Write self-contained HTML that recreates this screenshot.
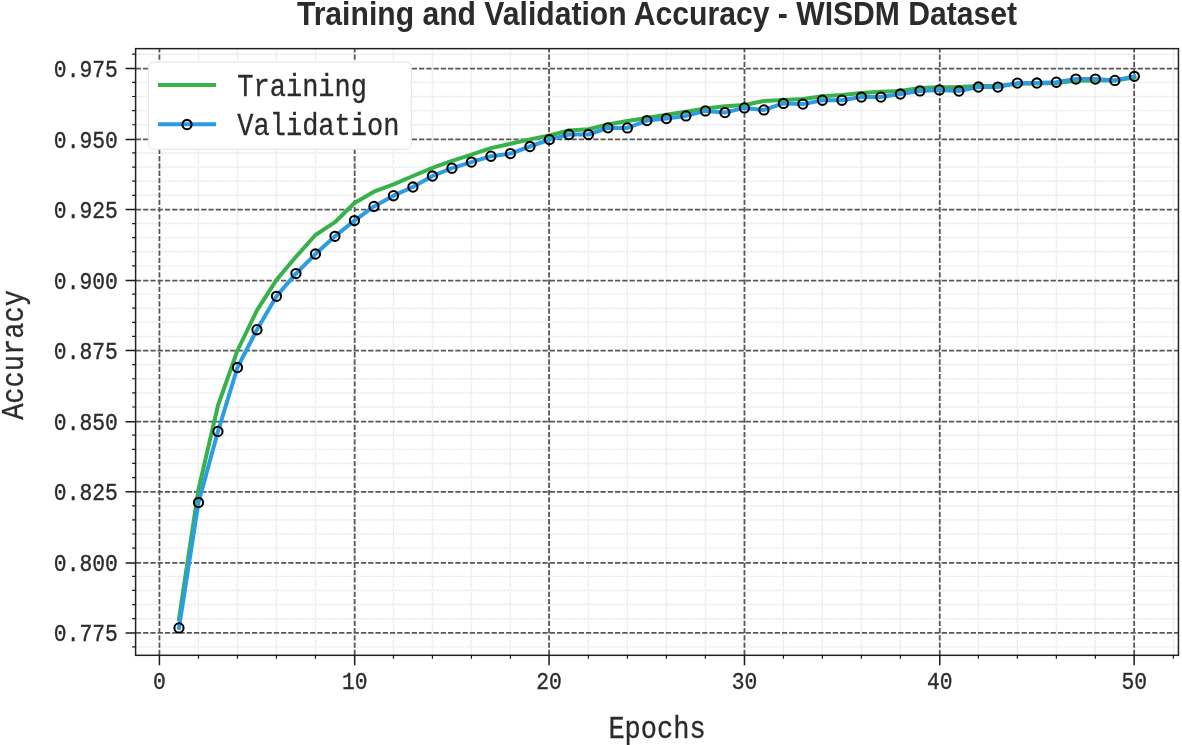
<!DOCTYPE html>
<html><head><meta charset="utf-8"><style>html,body{margin:0;padding:0;background:#fff;width:1182px;height:745px;overflow:hidden}svg{display:block}svg{will-change:transform}</style></head>
<body>
<svg width="1182" height="745" viewBox="0 0 1182 745">
<rect width="1182" height="745" fill="#fff"/>
<defs><clipPath id="ax"><rect x="135.6" y="48.65" width="1042.8500000000001" height="606.65"/></clipPath></defs>
<path d="M198.47 655.3V48.65M237.46 655.3V48.65M276.46 655.3V48.65M315.45 655.3V48.65M393.45 655.3V48.65M432.44 655.3V48.65M471.44 655.3V48.65M510.43 655.3V48.65M588.43 655.3V48.65M627.42 655.3V48.65M666.42 655.3V48.65M705.41 655.3V48.65M783.41 655.3V48.65M822.40 655.3V48.65M861.40 655.3V48.65M900.39 655.3V48.65M978.39 655.3V48.65M1017.38 655.3V48.65M1056.38 655.3V48.65M1095.37 655.3V48.65M1173.37 655.3V48.65M135.6 646.90H1178.45M135.6 618.68H1178.45M135.6 604.57H1178.45M135.6 590.45H1178.45M135.6 576.34H1178.45M135.6 548.12H1178.45M135.6 534.00H1178.45M135.6 519.89H1178.45M135.6 505.78H1178.45M135.6 477.56H1178.45M135.6 463.44H1178.45M135.6 449.33H1178.45M135.6 435.22H1178.45M135.6 406.99H1178.45M135.6 392.88H1178.45M135.6 378.77H1178.45M135.6 364.66H1178.45M135.6 336.43H1178.45M135.6 322.32H1178.45M135.6 308.21H1178.45M135.6 294.10H1178.45M135.6 265.87H1178.45M135.6 251.76H1178.45M135.6 237.65H1178.45M135.6 223.53H1178.45M135.6 195.31H1178.45M135.6 181.20H1178.45M135.6 167.09H1178.45M135.6 152.97H1178.45M135.6 124.75H1178.45M135.6 110.64H1178.45M135.6 96.52H1178.45M135.6 82.41H1178.45M135.6 54.19H1178.45" stroke="#ebebeb" stroke-width="1.4" stroke-dasharray="2.5 0.7" fill="none"/>
<path d="M159.43 655.3V48.65M354.67 655.3V48.65M549.06 655.3V48.65M744.47 655.3V48.65M939.77 655.3V48.65M1134.16 655.3V48.65M135.6 632.97H1178.45M135.6 562.90H1178.45M135.6 491.80H1178.45M135.6 421.72H1178.45M135.6 350.60H1178.45M135.6 280.60H1178.45M135.6 209.53H1178.45M135.6 139.47H1178.45M135.6 68.53H1178.45" stroke="#4a4a4a" stroke-opacity="0.92" stroke-width="1.8" stroke-dasharray="5.3 1.96" stroke-dashoffset="-0.24" fill="none"/>
<g clip-path="url(#ax)">
<polyline points="178.97,619.00 198.47,489.50 217.96,405.50 237.46,350.50 256.96,310.30 276.46,279.90 295.96,256.80 315.45,235.00 334.95,222.20 354.45,203.00 373.95,191.70 393.45,184.30 412.94,176.00 432.44,167.90 451.94,160.80 471.44,154.60 490.94,148.10 510.43,143.80 529.93,139.40 549.43,135.50 568.93,130.40 588.43,129.20 607.92,124.50 627.42,121.00 646.92,117.90 666.42,114.80 685.92,111.80 705.41,108.50 724.91,106.20 744.41,105.00 763.91,100.90 783.41,99.90 802.90,98.90 822.40,96.20 841.90,95.00 861.40,93.10 880.90,91.70 900.39,91.10 919.89,88.10 939.39,87.20 958.89,86.90 978.39,86.00 997.88,85.80 1017.38,83.80 1036.88,83.40 1056.38,83.00 1075.88,80.80 1095.37,80.50 1114.87,80.60 1134.37,77.30" fill="none" stroke="#37b24b" stroke-width="4" stroke-linejoin="round" stroke-linecap="square"/>
<polyline points="178.97,627.90 198.47,502.50 217.96,431.40 237.46,367.50 256.96,329.70 276.46,296.30 295.96,273.60 315.45,254.00 334.95,236.30 354.45,220.60 373.95,206.40 393.45,195.70 412.94,187.00 432.44,176.00 451.94,168.20 471.44,162.10 490.94,156.20 510.43,153.60 529.93,146.50 549.43,139.60 568.93,134.50 588.43,134.50 607.92,127.80 627.42,127.90 646.92,120.60 666.42,118.60 685.92,115.90 705.41,110.90 724.91,112.60 744.41,107.90 763.91,109.90 783.41,103.40 802.90,104.10 822.40,100.20 841.90,100.20 861.40,97.10 880.90,97.10 900.39,94.00 919.89,90.90 939.39,89.90 958.89,91.00 978.39,87.00 997.88,87.10 1017.38,83.10 1036.88,83.00 1056.38,82.20 1075.88,79.10 1095.37,79.10 1114.87,80.40 1134.37,76.30" fill="none" stroke="#2b9de5" stroke-width="4" stroke-linejoin="round" stroke-linecap="square"/>
<ellipse cx="178.97" cy="627.90" rx="4.6" ry="4.65" fill="none" stroke="#000" stroke-width="2.05"/>
<ellipse cx="198.47" cy="502.50" rx="4.6" ry="4.65" fill="none" stroke="#000" stroke-width="2.05"/>
<ellipse cx="217.96" cy="431.40" rx="4.6" ry="4.65" fill="none" stroke="#000" stroke-width="2.05"/>
<ellipse cx="237.46" cy="367.50" rx="4.6" ry="4.65" fill="none" stroke="#000" stroke-width="2.05"/>
<ellipse cx="256.96" cy="329.70" rx="4.6" ry="4.65" fill="none" stroke="#000" stroke-width="2.05"/>
<ellipse cx="276.46" cy="296.30" rx="4.6" ry="4.65" fill="none" stroke="#000" stroke-width="2.05"/>
<ellipse cx="295.96" cy="273.60" rx="4.6" ry="4.65" fill="none" stroke="#000" stroke-width="2.05"/>
<ellipse cx="315.45" cy="254.00" rx="4.6" ry="4.65" fill="none" stroke="#000" stroke-width="2.05"/>
<ellipse cx="334.95" cy="236.30" rx="4.6" ry="4.65" fill="none" stroke="#000" stroke-width="2.05"/>
<ellipse cx="354.45" cy="220.60" rx="4.6" ry="4.65" fill="none" stroke="#000" stroke-width="2.05"/>
<ellipse cx="373.95" cy="206.40" rx="4.6" ry="4.65" fill="none" stroke="#000" stroke-width="2.05"/>
<ellipse cx="393.45" cy="195.70" rx="4.6" ry="4.65" fill="none" stroke="#000" stroke-width="2.05"/>
<ellipse cx="412.94" cy="187.00" rx="4.6" ry="4.65" fill="none" stroke="#000" stroke-width="2.05"/>
<ellipse cx="432.44" cy="176.00" rx="4.6" ry="4.65" fill="none" stroke="#000" stroke-width="2.05"/>
<ellipse cx="451.94" cy="168.20" rx="4.6" ry="4.65" fill="none" stroke="#000" stroke-width="2.05"/>
<ellipse cx="471.44" cy="162.10" rx="4.6" ry="4.65" fill="none" stroke="#000" stroke-width="2.05"/>
<ellipse cx="490.94" cy="156.20" rx="4.6" ry="4.65" fill="none" stroke="#000" stroke-width="2.05"/>
<ellipse cx="510.43" cy="153.60" rx="4.6" ry="4.65" fill="none" stroke="#000" stroke-width="2.05"/>
<ellipse cx="529.93" cy="146.50" rx="4.6" ry="4.65" fill="none" stroke="#000" stroke-width="2.05"/>
<ellipse cx="549.43" cy="139.60" rx="4.6" ry="4.65" fill="none" stroke="#000" stroke-width="2.05"/>
<ellipse cx="568.93" cy="134.50" rx="4.6" ry="4.65" fill="none" stroke="#000" stroke-width="2.05"/>
<ellipse cx="588.43" cy="134.50" rx="4.6" ry="4.65" fill="none" stroke="#000" stroke-width="2.05"/>
<ellipse cx="607.92" cy="127.80" rx="4.6" ry="4.65" fill="none" stroke="#000" stroke-width="2.05"/>
<ellipse cx="627.42" cy="127.90" rx="4.6" ry="4.65" fill="none" stroke="#000" stroke-width="2.05"/>
<ellipse cx="646.92" cy="120.60" rx="4.6" ry="4.65" fill="none" stroke="#000" stroke-width="2.05"/>
<ellipse cx="666.42" cy="118.60" rx="4.6" ry="4.65" fill="none" stroke="#000" stroke-width="2.05"/>
<ellipse cx="685.92" cy="115.90" rx="4.6" ry="4.65" fill="none" stroke="#000" stroke-width="2.05"/>
<ellipse cx="705.41" cy="110.90" rx="4.6" ry="4.65" fill="none" stroke="#000" stroke-width="2.05"/>
<ellipse cx="724.91" cy="112.60" rx="4.6" ry="4.65" fill="none" stroke="#000" stroke-width="2.05"/>
<ellipse cx="744.41" cy="107.90" rx="4.6" ry="4.65" fill="none" stroke="#000" stroke-width="2.05"/>
<ellipse cx="763.91" cy="109.90" rx="4.6" ry="4.65" fill="none" stroke="#000" stroke-width="2.05"/>
<ellipse cx="783.41" cy="103.40" rx="4.6" ry="4.65" fill="none" stroke="#000" stroke-width="2.05"/>
<ellipse cx="802.90" cy="104.10" rx="4.6" ry="4.65" fill="none" stroke="#000" stroke-width="2.05"/>
<ellipse cx="822.40" cy="100.20" rx="4.6" ry="4.65" fill="none" stroke="#000" stroke-width="2.05"/>
<ellipse cx="841.90" cy="100.20" rx="4.6" ry="4.65" fill="none" stroke="#000" stroke-width="2.05"/>
<ellipse cx="861.40" cy="97.10" rx="4.6" ry="4.65" fill="none" stroke="#000" stroke-width="2.05"/>
<ellipse cx="880.90" cy="97.10" rx="4.6" ry="4.65" fill="none" stroke="#000" stroke-width="2.05"/>
<ellipse cx="900.39" cy="94.00" rx="4.6" ry="4.65" fill="none" stroke="#000" stroke-width="2.05"/>
<ellipse cx="919.89" cy="90.90" rx="4.6" ry="4.65" fill="none" stroke="#000" stroke-width="2.05"/>
<ellipse cx="939.39" cy="89.90" rx="4.6" ry="4.65" fill="none" stroke="#000" stroke-width="2.05"/>
<ellipse cx="958.89" cy="91.00" rx="4.6" ry="4.65" fill="none" stroke="#000" stroke-width="2.05"/>
<ellipse cx="978.39" cy="87.00" rx="4.6" ry="4.65" fill="none" stroke="#000" stroke-width="2.05"/>
<ellipse cx="997.88" cy="87.10" rx="4.6" ry="4.65" fill="none" stroke="#000" stroke-width="2.05"/>
<ellipse cx="1017.38" cy="83.10" rx="4.6" ry="4.65" fill="none" stroke="#000" stroke-width="2.05"/>
<ellipse cx="1036.88" cy="83.00" rx="4.6" ry="4.65" fill="none" stroke="#000" stroke-width="2.05"/>
<ellipse cx="1056.38" cy="82.20" rx="4.6" ry="4.65" fill="none" stroke="#000" stroke-width="2.05"/>
<ellipse cx="1075.88" cy="79.10" rx="4.6" ry="4.65" fill="none" stroke="#000" stroke-width="2.05"/>
<ellipse cx="1095.37" cy="79.10" rx="4.6" ry="4.65" fill="none" stroke="#000" stroke-width="2.05"/>
<ellipse cx="1114.87" cy="80.40" rx="4.6" ry="4.65" fill="none" stroke="#000" stroke-width="2.05"/>
<ellipse cx="1134.37" cy="76.30" rx="4.6" ry="4.65" fill="none" stroke="#000" stroke-width="2.05"/>
</g>
<rect x="135.6" y="48.65" width="1042.8500000000001" height="606.65" fill="none" stroke="#222" stroke-width="1.5"/>
<path d="M159.43 655.3v10M354.67 655.3v10M549.06 655.3v10M744.47 655.3v10M939.77 655.3v10M1134.16 655.3v10M135.6 632.97h-10M135.6 562.90h-10M135.6 491.80h-10M135.6 421.72h-10M135.6 350.60h-10M135.6 280.60h-10M135.6 209.53h-10M135.6 139.47h-10M135.6 68.53h-10" stroke="#1a1a1a" stroke-width="1.5"/>
<path d="M198.47 655.3v3.5M237.46 655.3v3.5M276.46 655.3v3.5M315.45 655.3v3.5M393.45 655.3v3.5M432.44 655.3v3.5M471.44 655.3v3.5M510.43 655.3v3.5M588.43 655.3v3.5M627.42 655.3v3.5M666.42 655.3v3.5M705.41 655.3v3.5M783.41 655.3v3.5M822.40 655.3v3.5M861.40 655.3v3.5M900.39 655.3v3.5M978.39 655.3v3.5M1017.38 655.3v3.5M1056.38 655.3v3.5M1095.37 655.3v3.5M1173.37 655.3v3.5M135.6 646.90h-3.5M135.6 618.68h-3.5M135.6 604.57h-3.5M135.6 590.45h-3.5M135.6 576.34h-3.5M135.6 548.12h-3.5M135.6 534.00h-3.5M135.6 519.89h-3.5M135.6 505.78h-3.5M135.6 477.56h-3.5M135.6 463.44h-3.5M135.6 449.33h-3.5M135.6 435.22h-3.5M135.6 406.99h-3.5M135.6 392.88h-3.5M135.6 378.77h-3.5M135.6 364.66h-3.5M135.6 336.43h-3.5M135.6 322.32h-3.5M135.6 308.21h-3.5M135.6 294.10h-3.5M135.6 265.87h-3.5M135.6 251.76h-3.5M135.6 237.65h-3.5M135.6 223.53h-3.5M135.6 195.31h-3.5M135.6 181.20h-3.5M135.6 167.09h-3.5M135.6 152.97h-3.5M135.6 124.75h-3.5M135.6 110.64h-3.5M135.6 96.52h-3.5M135.6 82.41h-3.5M135.6 54.19h-3.5" stroke="#1a1a1a" stroke-width="1.2"/>
<text transform="translate(159.43 688.6) scale(0.896 1)" font-family='"Liberation Mono", monospace' font-size="23.8" fill="#2b2b2b" stroke="#2b2b2b" stroke-width="0.35" text-anchor="middle">0</text>
<text transform="translate(354.67 688.6) scale(0.896 1)" font-family='"Liberation Mono", monospace' font-size="23.8" fill="#2b2b2b" stroke="#2b2b2b" stroke-width="0.35" text-anchor="middle">10</text>
<text transform="translate(549.06 688.6) scale(0.896 1)" font-family='"Liberation Mono", monospace' font-size="23.8" fill="#2b2b2b" stroke="#2b2b2b" stroke-width="0.35" text-anchor="middle">20</text>
<text transform="translate(744.47 688.6) scale(0.896 1)" font-family='"Liberation Mono", monospace' font-size="23.8" fill="#2b2b2b" stroke="#2b2b2b" stroke-width="0.35" text-anchor="middle">30</text>
<text transform="translate(939.77 688.6) scale(0.896 1)" font-family='"Liberation Mono", monospace' font-size="23.8" fill="#2b2b2b" stroke="#2b2b2b" stroke-width="0.35" text-anchor="middle">40</text>
<text transform="translate(1134.16 688.6) scale(0.896 1)" font-family='"Liberation Mono", monospace' font-size="23.8" fill="#2b2b2b" stroke="#2b2b2b" stroke-width="0.35" text-anchor="middle">50</text>
<text transform="translate(117.8 641.07) scale(0.896 1)" font-family='"Liberation Mono", monospace' font-size="23.8" fill="#2b2b2b" stroke="#2b2b2b" stroke-width="0.35" text-anchor="end">0.775</text>
<text transform="translate(117.8 571.00) scale(0.896 1)" font-family='"Liberation Mono", monospace' font-size="23.8" fill="#2b2b2b" stroke="#2b2b2b" stroke-width="0.35" text-anchor="end">0.800</text>
<text transform="translate(117.8 499.90) scale(0.896 1)" font-family='"Liberation Mono", monospace' font-size="23.8" fill="#2b2b2b" stroke="#2b2b2b" stroke-width="0.35" text-anchor="end">0.825</text>
<text transform="translate(117.8 429.82) scale(0.896 1)" font-family='"Liberation Mono", monospace' font-size="23.8" fill="#2b2b2b" stroke="#2b2b2b" stroke-width="0.35" text-anchor="end">0.850</text>
<text transform="translate(117.8 358.70) scale(0.896 1)" font-family='"Liberation Mono", monospace' font-size="23.8" fill="#2b2b2b" stroke="#2b2b2b" stroke-width="0.35" text-anchor="end">0.875</text>
<text transform="translate(117.8 288.70) scale(0.896 1)" font-family='"Liberation Mono", monospace' font-size="23.8" fill="#2b2b2b" stroke="#2b2b2b" stroke-width="0.35" text-anchor="end">0.900</text>
<text transform="translate(117.8 217.63) scale(0.896 1)" font-family='"Liberation Mono", monospace' font-size="23.8" fill="#2b2b2b" stroke="#2b2b2b" stroke-width="0.35" text-anchor="end">0.925</text>
<text transform="translate(117.8 147.57) scale(0.896 1)" font-family='"Liberation Mono", monospace' font-size="23.8" fill="#2b2b2b" stroke="#2b2b2b" stroke-width="0.35" text-anchor="end">0.950</text>
<text transform="translate(117.8 76.63) scale(0.896 1)" font-family='"Liberation Mono", monospace' font-size="23.8" fill="#2b2b2b" stroke="#2b2b2b" stroke-width="0.35" text-anchor="end">0.975</text>
<text transform="translate(657.02 738.0) scale(0.869 1)" font-family='"Liberation Mono", monospace' font-size="31.1" fill="#2b2b2b" stroke="#2b2b2b" stroke-width="0.3" text-anchor="middle">Epochs</text>
<text transform="translate(22.8 355) rotate(-90) scale(0.869 1)" font-family='"Liberation Mono", monospace' font-size="31.1" fill="#2b2b2b" stroke="#2b2b2b" stroke-width="0.3" text-anchor="middle">Accuracy</text>
<text transform="translate(657.02 24.9) scale(0.902 1)" font-family='"Liberation Sans", sans-serif' font-weight="bold" font-size="33.4" fill="#2b2b2b" text-anchor="middle">Training and Validation Accuracy - WISDM Dataset</text>
<rect x="148.3" y="62.1" width="263" height="87.2" rx="5" ry="5" fill="#fff" fill-opacity="1" stroke="#e3e3e3" stroke-width="1"/>
<path d="M157.9 84.9H216.1" stroke="#37b24b" stroke-width="4"/>
<path d="M157.9 124.2H216.1" stroke="#2b9de5" stroke-width="4"/>
<ellipse cx="187.0" cy="124.5" rx="4.6" ry="4.65" fill="none" stroke="#000" stroke-width="2.05"/>
<text transform="translate(237.3 95.8) scale(0.869 1)" font-family='"Liberation Mono", monospace' font-size="31.1" fill="#2b2b2b" stroke="#2b2b2b" stroke-width="0.3">Training</text>
<text transform="translate(237.3 134.9) scale(0.869 1)" font-family='"Liberation Mono", monospace' font-size="31.1" fill="#2b2b2b" stroke="#2b2b2b" stroke-width="0.3">Validation</text>
</svg>
</body></html>
